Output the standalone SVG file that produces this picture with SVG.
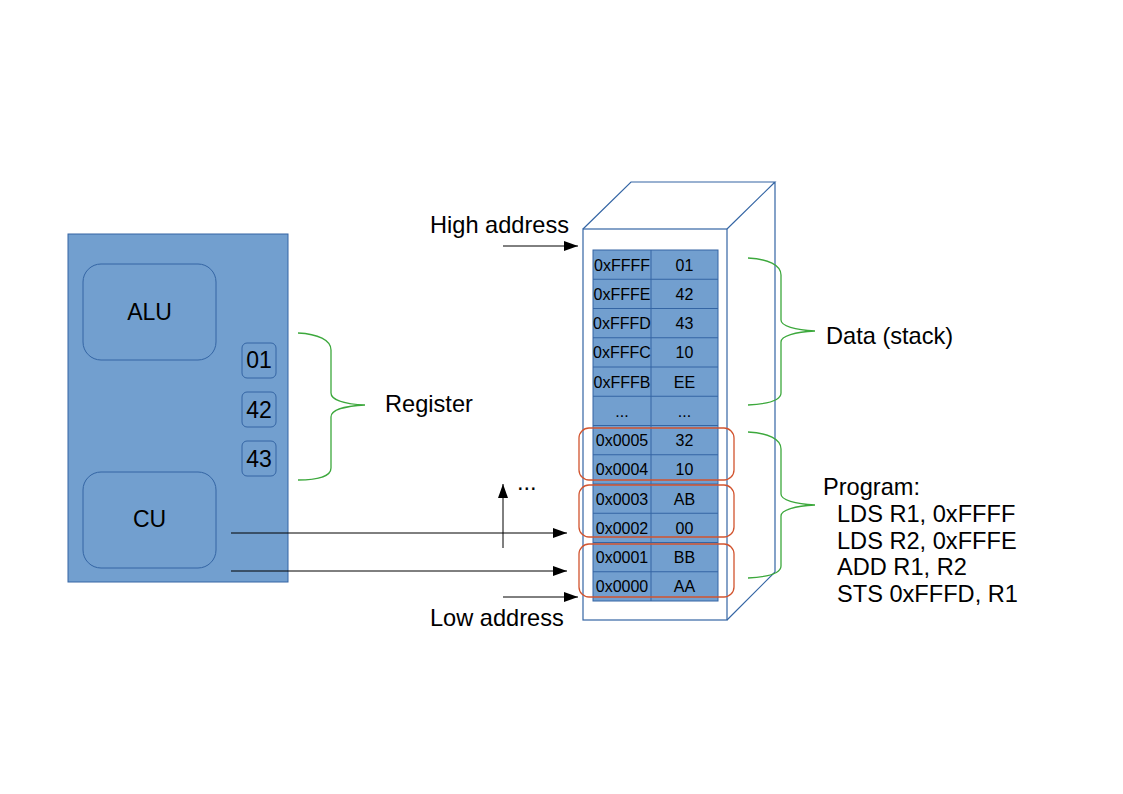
<svg xmlns="http://www.w3.org/2000/svg" width="1123" height="794" viewBox="0 0 1123 794">
<defs>
<marker id="ah2" viewBox="0 0 14 10" refX="14" refY="5" markerWidth="14" markerHeight="10" markerUnits="userSpaceOnUse" orient="auto">
<path d="M0,0 L14,5 L0,10 Z" fill="#000"/>
</marker>
</defs>
<style>
text{font-family:"Liberation Sans",Arial,sans-serif;fill:#000}
.big{font-size:23px}
.lab{font-size:23.6px}
.sm{font-size:16px}
.mid{text-anchor:middle}
.blue{fill:#729fcf;stroke:#3465a4;stroke-width:1}
.inner{fill:#729fcf;stroke:#3465a4;stroke-width:1}
.cube{fill:none;stroke:#3465a4;stroke-width:1.2}
.brace{fill:none;stroke:#3ca83c;stroke-width:1.3}
.red{fill:none;stroke:#d2542f;stroke-width:1.3}
.conn{stroke:#000;stroke-width:1;fill:none}
</style>
<rect width="1123" height="794" fill="#fff"/>

<g id="cpu">
<rect class="blue" x="68" y="234" width="220" height="348"/>
</g>
<g id="alu">
<rect class="inner" x="83" y="264" width="133" height="96" rx="18"/>
<text class="big mid" x="149.5" y="320">ALU</text>
</g>
<g id="cu">
<rect class="inner" x="83" y="472" width="133" height="96" rx="18"/>
<text class="big mid" x="149.5" y="527">CU</text>
</g>
<g id="reg01">
<rect class="inner" x="242" y="343" width="34" height="35" rx="5"/>
<text class="big mid" x="259" y="368">01</text>
</g>
<g id="reg42">
<rect class="inner" x="242" y="392" width="34" height="35" rx="5"/>
<text class="big mid" x="259" y="418">42</text>
</g>
<g id="reg43">
<rect class="inner" x="242" y="441" width="34" height="35" rx="5"/>
<text class="big mid" x="259" y="467">43</text>
</g>

<g id="register-label">
<path class="brace" d="M298,333 C318,334 331,340 331,350 L331,393 C331,400 345,404 365,405 C345,406 331,410 331,417 L331,468 C331,476 318,480 298,480"/>
<text class="lab" x="385" y="412">Register</text>
</g>

<g id="memory-cube">
<rect class="cube" x="583" y="229" width="144" height="391"/>
<path class="cube" d="M583,229 L631,182 L775,182 L727,229 M775,182 L775,572 L727,620"/>
</g>

<g id="memory-table">
<rect class="blue" x="593" y="250" width="125" height="351"/>
<g stroke="#3465a4" stroke-width="1">
<line x1="651" y1="250" x2="651" y2="601"/>
<line x1="593" y1="279.25" x2="718" y2="279.25"/>
<line x1="593" y1="308.5" x2="718" y2="308.5"/>
<line x1="593" y1="337.75" x2="718" y2="337.75"/>
<line x1="593" y1="367" x2="718" y2="367"/>
<line x1="593" y1="396.25" x2="718" y2="396.25"/>
<line x1="593" y1="425.5" x2="718" y2="425.5"/>
<line x1="593" y1="454.75" x2="718" y2="454.75"/>
<line x1="593" y1="484" x2="718" y2="484"/>
<line x1="593" y1="513.25" x2="718" y2="513.25"/>
<line x1="593" y1="542.5" x2="718" y2="542.5"/>
<line x1="593" y1="571.75" x2="718" y2="571.75"/>
</g>
<g>
<text class="sm mid" x="622" y="270.5">0xFFFF</text><text class="sm mid" x="684.5" y="270.5">01</text>
<text class="sm mid" x="622" y="299.5">0xFFFE</text><text class="sm mid" x="684.5" y="299.5">42</text>
<text class="sm mid" x="622" y="329">0xFFFD</text><text class="sm mid" x="684.5" y="329">43</text>
<text class="sm mid" x="622" y="358">0xFFFC</text><text class="sm mid" x="684.5" y="358">10</text>
<text class="sm mid" x="622" y="387.5">0xFFFB</text><text class="sm mid" x="684.5" y="387.5">EE</text>
<text class="sm mid" x="622" y="416.5">...</text><text class="sm mid" x="684.5" y="416.5">...</text>
<text class="sm mid" x="622" y="446">0x0005</text><text class="sm mid" x="684.5" y="446">32</text>
<text class="sm mid" x="622" y="475">0x0004</text><text class="sm mid" x="684.5" y="475">10</text>
<text class="sm mid" x="622" y="504.5">0x0003</text><text class="sm mid" x="684.5" y="504.5">AB</text>
<text class="sm mid" x="622" y="533.5">0x0002</text><text class="sm mid" x="684.5" y="533.5">00</text>
<text class="sm mid" x="622" y="563">0x0001</text><text class="sm mid" x="684.5" y="563">BB</text>
<text class="sm mid" x="622" y="592">0x0000</text><text class="sm mid" x="684.5" y="592">AA</text>
</g>
</g>

<g id="instruction-groups">
<rect class="red" x="579" y="428" width="155" height="52" rx="10"/>
<rect class="red" x="579" y="485" width="155" height="52" rx="10"/>
<rect class="red" x="579" y="544" width="155" height="53" rx="10"/>
</g>

<g id="data-label">
<path class="brace" d="M748,258 C768,259 781,265 781,275 L781,320 C781,326 795,330 815,331 C795,332 781,336 781,342 L781,393 C781,401 768,404 748,405"/>
<text class="lab" x="826" y="344">Data (stack)</text>
</g>

<g id="program-label">
<path class="brace" d="M748,432 C768,433 781,439 781,449 L781,494 C781,500 795,504 815,505 C795,506 781,510 781,516 L781,566 C781,574 768,577 748,578"/>
<text class="lab" x="823" y="495">Program:</text>
<text class="lab" x="837" y="522">LDS R1, 0xFFFF</text>
<text class="lab" x="837" y="548.5">LDS R2, 0xFFFE</text>
<text class="lab" x="837" y="575">ADD R1, R2</text>
<text class="lab" x="837" y="602">STS 0xFFFD, R1</text>
</g>

<g id="labels">
<text class="lab" x="430" y="233">High address</text>
<text class="lab" x="430" y="626">Low address</text>
<text class="lab" x="517" y="490">...</text>
</g>

<g id="connectors">
<line class="conn" x1="503" y1="246" x2="578" y2="246" marker-end="url(#ah2)"/>
<line class="conn" x1="503" y1="597" x2="578" y2="597" marker-end="url(#ah2)"/>
<line class="conn" x1="231" y1="533" x2="567" y2="533" marker-end="url(#ah2)"/>
<line class="conn" x1="231" y1="571" x2="567" y2="571" marker-end="url(#ah2)"/>
<line class="conn" x1="503" y1="548" x2="503" y2="484" marker-end="url(#ah2)"/>
</g>
</svg>
